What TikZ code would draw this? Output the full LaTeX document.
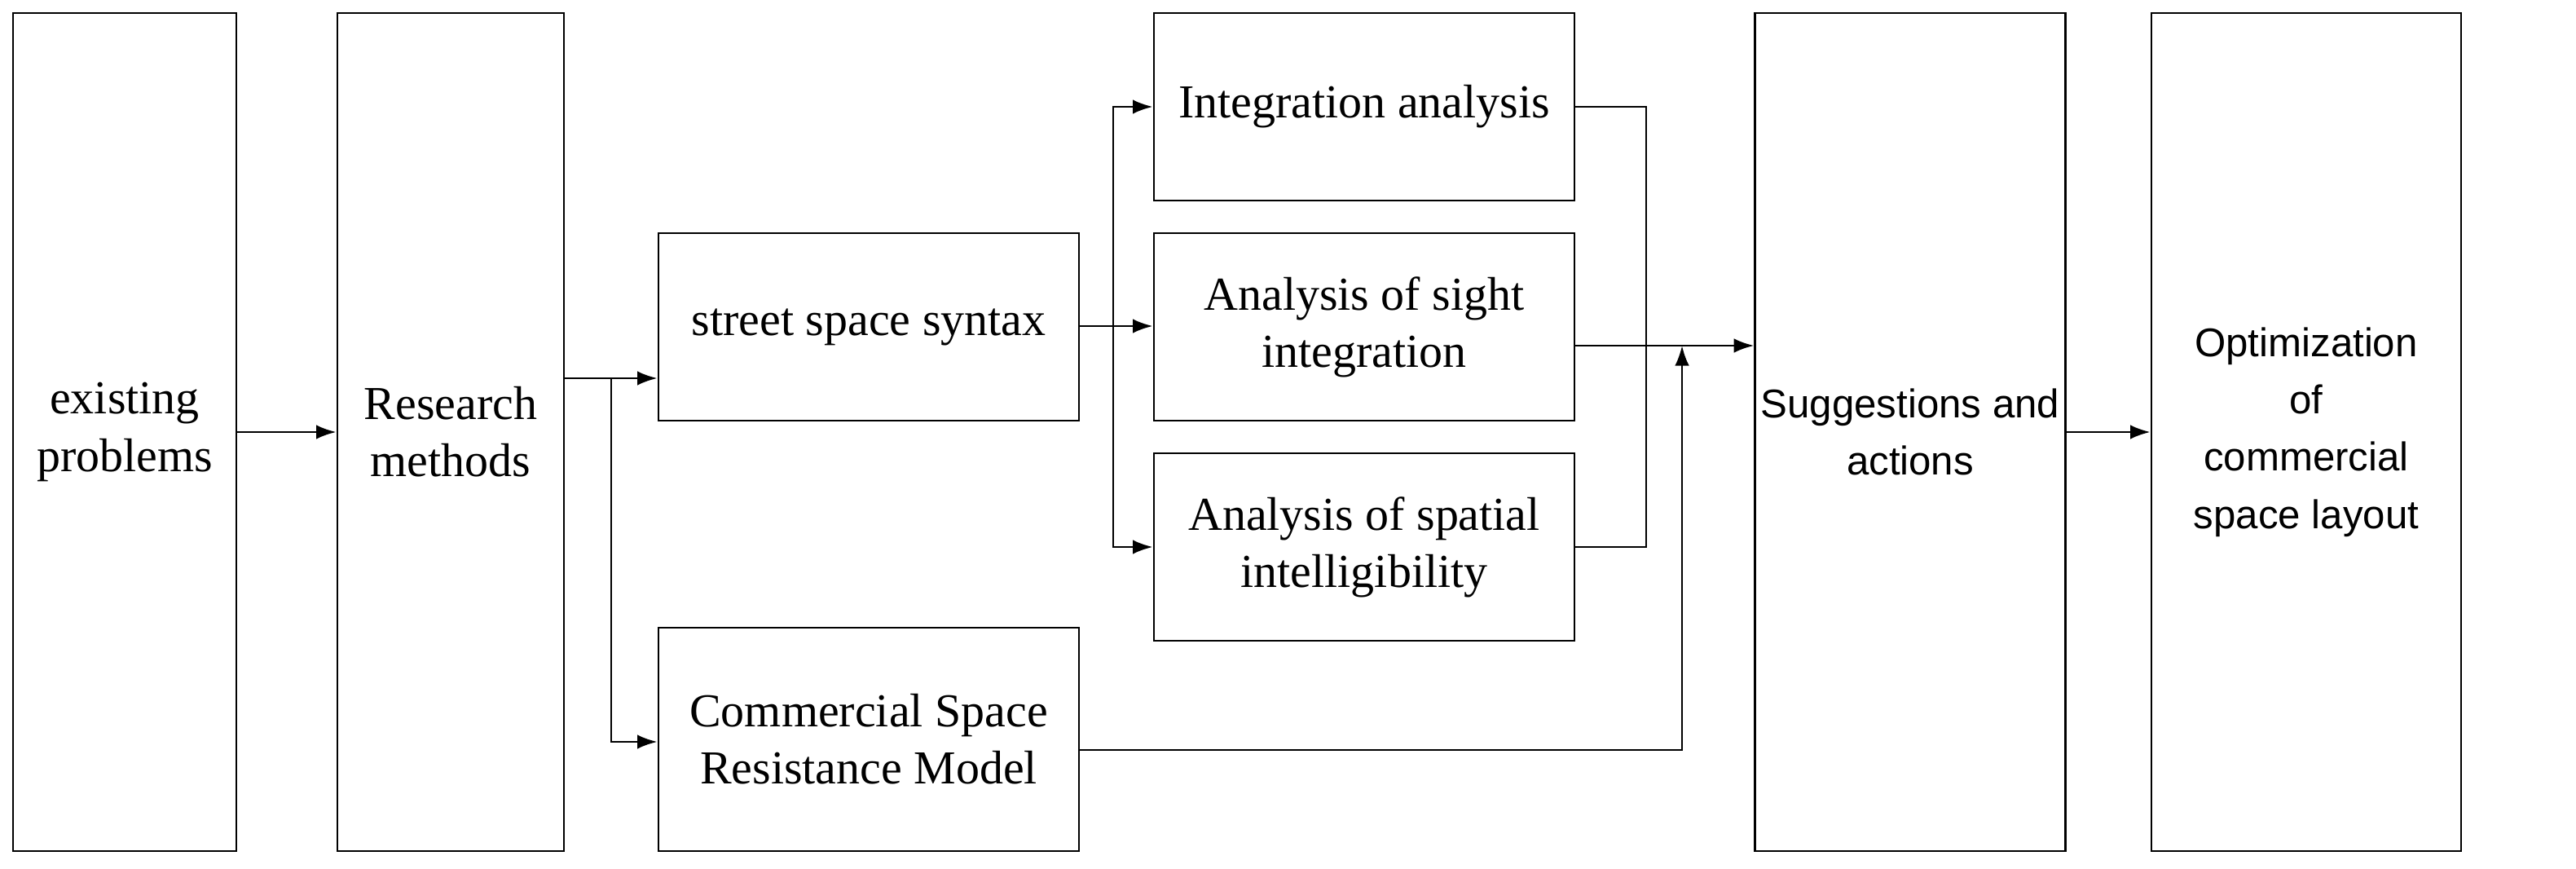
\documentclass[tikz,border=0pt]{standalone}
\usepackage{fontspec}
\setmainfont{Liberation Serif}
\newfontfamily\sansfam{Liberation Sans}
\usetikzlibrary{arrows.meta}
\begin{document}
\begin{tikzpicture}[x=0.02cm,y=-0.02cm,
  box/.style={draw,thick,align=center,font=\fontsize{16.5}{20}\selectfont,inner sep=2pt},
  line/.style={thick},
  arr/.style={thick,-{Latex[length=7pt,width=5pt]}}]
  % canvas
  \useasboundingbox (0,0) rectangle (1580.5,533);
  % --- boxes ---
  \node[box,minimum width=137*0.02cm,minimum height=514*0.02cm] (problems) at (76.5,265) {existing\\problems};
  \node[box,minimum width=139*0.02cm,minimum height=514*0.02cm] (methods) at (276.5,265) {Research\\methods};
  \node[box,minimum width=258*0.02cm,minimum height=115*0.02cm] (syntax) at (533,200.5) {street space syntax};
  \node[box,minimum width=258*0.02cm,minimum height=137*0.02cm] (model) at (533,453.5) {Commercial Space\\Resistance Model};
  \node[box,minimum width=258*0.02cm,minimum height=115*0.02cm] (integ) at (837,65.5) {Integration analysis};
  \node[box,minimum width=258*0.02cm,minimum height=115*0.02cm] (sight) at (837,200.5) {Analysis of sight\\integration};
  \node[box,minimum width=258*0.02cm,minimum height=115*0.02cm] (intel) at (837,335.5) {Analysis of spatial\\intelligibility};
  \node[box,font=\sansfam\fontsize{14}{20}\selectfont,minimum width=180*0.02cm,minimum height=514*0.02cm] (suggest) at (1172,265) {Suggestions and\\actions};
  \node[box,font=\sansfam\fontsize{14}{20}\selectfont,minimum width=190*0.02cm,minimum height=514*0.02cm] (optim) at (1415,265) {Optimization\\of\\commercial\\space layout};
  % --- connectors ---
  \coordinate (m1) at (375,232);
  \coordinate (s1) at (683,200);
  \coordinate (j1) at (1010,212);
  \coordinate (j2) at (1032,212);
  \draw[arr] (problems) -- (methods);
  \draw[line] (methods.east |- m1) -- (m1);
  \draw[arr] (m1) -- (syntax.west |- m1);
  \draw[arr] (m1) |- (model.west |- 0,455);
  \draw[line] (syntax.east |- s1) -- (s1);
  \draw[arr] (s1) |- (integ.west);
  \draw[arr] (s1) -- (sight.west |- s1);
  \draw[arr] (s1) |- (intel.west);
  \draw[line] (integ.east) -| (j1);
  \draw[line] (intel.east) -| (j1);
  \draw[arr] (sight.east |- j1) -- (suggest.west |- j1);
  \draw[arr] (model.east |- 0,460) -| (j2);
  \draw[arr] (suggest) -- (optim);
\end{tikzpicture}
\end{document}
